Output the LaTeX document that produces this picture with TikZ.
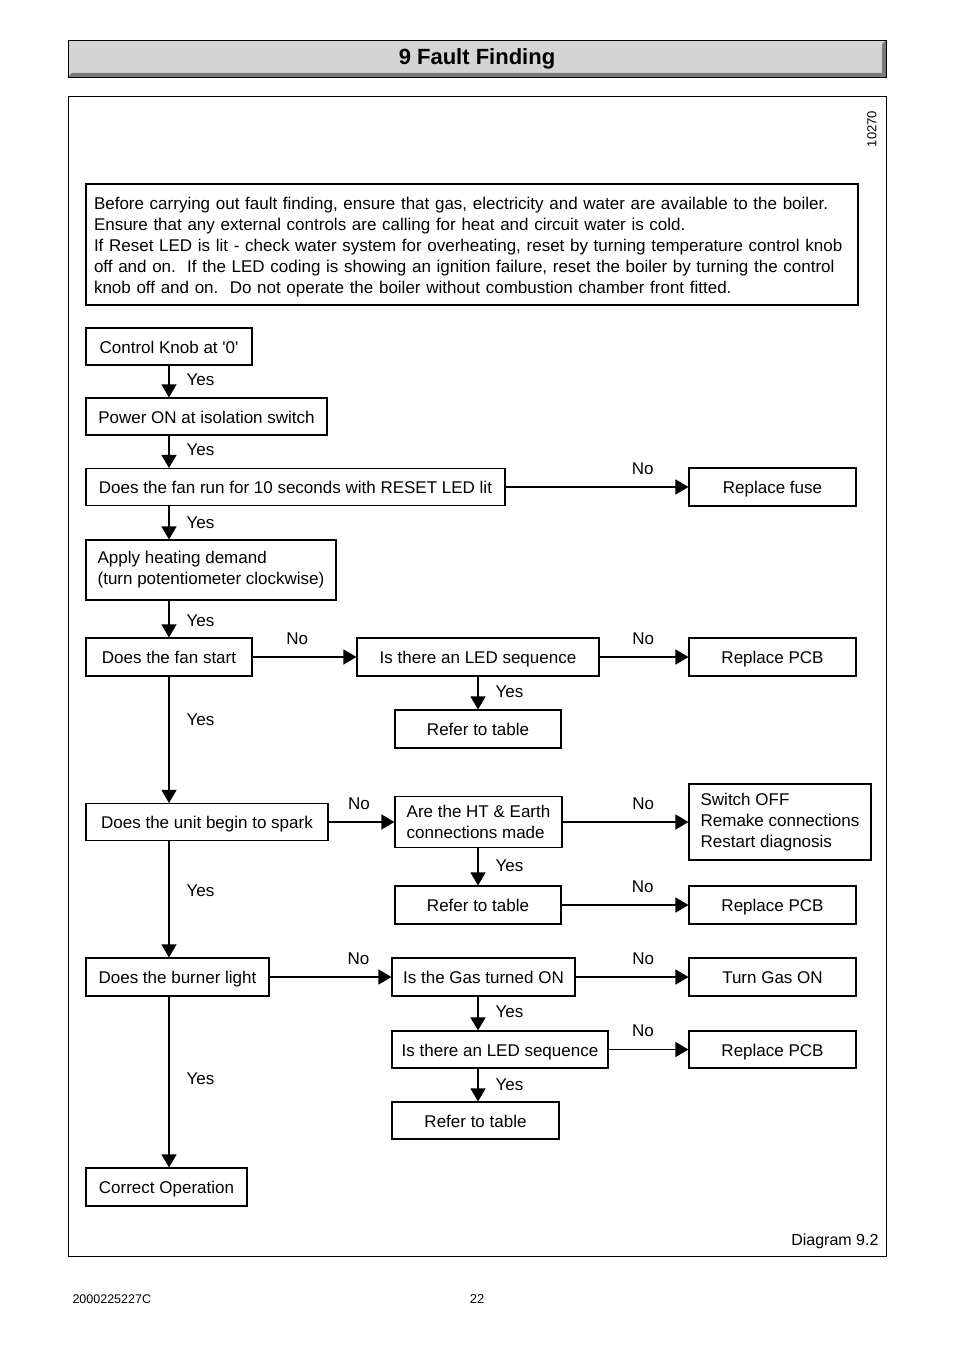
\documentclass[tikz,border=0pt]{standalone}
\usepackage{fontspec}
\setmainfont{Liberation Sans}
\usetikzlibrary{arrows.meta,positioning}
\newcommand{\fs}{\fontsize{17}{21}\selectfont}

\begin{document}
\begin{tikzpicture}[x=1pt, y=-1pt,
	box/.style = {draw, line width=1.1pt, inner sep=3pt, font=\fs, text height=15pt, text depth=1.5pt},
	tall/.style = {box, text height=, text depth=},
	arr/.style = {line width=1.1pt, -{Triangle[width=15pt,length=13pt]}},
	yes/.style = {anchor=west, xshift=17pt, inner sep=0pt, font=\fs},
	no/.style = {anchor=south, yshift=12pt, inner sep=0pt, font=\fs}]
	\useasboundingbox (0,0) rectangle (954,1351);
	% header bar
	\fill[black!17] (68,40) rectangle (886,77);
	\fill[black!52] (886,40) -- (886,77) -- (68,77) -- (72,73) -- (882,73) -- (882,44) -- cycle;
	\draw[line width=0.8pt] (68,40) rectangle (886,77);
	\node[font=\bfseries\fontsize{22}{26}\selectfont] (title) at (477,58.5) {9 Fault Finding};
	\draw[line width=0.8pt] (68,96) rectangle (886,1256);
	\node[rotate=90, font=\fontsize{13}{15}\selectfont] (code) at (872,129) {10270};
	\node[tall, text width=756pt, align=left, inner xsep=8pt, minimum height=121pt] (intro) at (472,244.5) {\raisebox{0pt}[18.5pt]{Before carrying out fault finding, ensure that gas, electricity and water are available to the boiler.}\\
		Ensure that any external controls are calling for heat and circuit water is cold.\\
		If Reset LED is lit - check water system for overheating, reset by turning temperature control knob\\
		off and on.\ \ If the LED coding is showing an ignition failure, reset the boiler by turning the control\\
		knob off and on.\ \ Do not operate the boiler without combustion chamber front fitted.};
	% left column
	\node[box, minimum width=166pt, minimum height=37pt] (knob) at (169,346.5) {Control Knob at \textquotesingle 0\textquotesingle};
	\node[box, minimum width=241pt, minimum height=37pt] (power) at (206.5,416.5) {Power ON at isolation switch};
	\node[box, minimum width=419pt, minimum height=37pt] (fanrun) at (295.5,487) {Does the fan run for 10 seconds with RESET LED lit};
	\node[tall, minimum width=250pt, minimum height=60pt, align=left] (heat) at (211,570) {Apply heating demand\\(turn potentiometer clockwise)};
	\node[box, minimum width=166pt, minimum height=38pt] (fanstart) at (169,657) {Does the fan start};
	\node[box, minimum width=242pt, minimum height=37pt] (spark) at (207,822) {Does the unit begin to spark};
	\node[box, minimum width=183pt, minimum height=38pt] (burner) at (177.5,977) {Does the burner light};
	\node[box, minimum width=161pt, minimum height=38pt] (correct) at (166.5,1187) {Correct Operation};
	% middle column
	\node[box, minimum width=242pt, minimum height=38pt] (led1) at (478,657) {Is there an LED sequence};
	\node[box, minimum width=166pt, minimum height=38pt] (ref1) at (478,729) {Refer to table};
	\node[tall, minimum width=167pt, minimum height=51pt, align=left] (ht) at (478.5,822) {Are the HT \& Earth\\connections made};
	\node[box, minimum width=166pt, minimum height=38pt] (ref2) at (478,905) {Refer to table};
	\node[box, minimum width=183pt, minimum height=38pt] (gas) at (483.5,977) {Is the Gas turned ON};
	\node[box, minimum width=216pt, minimum height=37pt] (led2) at (500,1049.5) {Is there an LED sequence};
	\node[box, minimum width=167pt, minimum height=37pt] (ref3) at (475.5,1120.5) {Refer to table};
	% right column
	\node[box, minimum width=167pt, minimum height=38pt] (fuse) at (772.5,487) {Replace fuse};
	\node[box, minimum width=167pt, minimum height=38pt] (pcb1) at (772.5,657) {Replace PCB};
	\node[tall, minimum width=182pt, minimum height=76pt, align=left] (switch) at (780,822) {Switch OFF\\Remake connections\\Restart diagnosis};
	\node[box, minimum width=167pt, minimum height=38pt] (pcb2) at (772.5,905) {Replace PCB};
	\node[box, minimum width=167pt, minimum height=38pt] (gason) at (772.5,977) {Turn Gas ON};
	\node[box, minimum width=167pt, minimum height=37pt] (pcb3) at (772.5,1049.5) {Replace PCB};
	\coordinate (spine) at (169,0);
	\coordinate (mid) at (478,0);
	% yes arrows
	\draw[arr] (spine |- knob.south) -- node[yes, pos=0.45]{Yes} (spine |- power.north);
	\draw[arr] (spine |- power.south) -- node[yes, pos=0.45]{Yes} (spine |- fanrun.north);
	\draw[arr] (spine |- fanrun.south) -- node[yes, pos=0.5]{Yes} (spine |- heat.north);
	\draw[arr] (spine |- heat.south) -- node[yes, pos=0.55]{Yes} (spine |- fanstart.north);
	\draw[arr] (spine |- fanstart.south) -- node[yes, pos=0.34]{Yes} (spine |- spark.north);
	\draw[arr] (spine |- spark.south) -- node[yes, pos=0.43]{Yes} (spine |- burner.north);
	\draw[arr] (spine |- burner.south) -- node[yes, pos=0.48]{Yes} (spine |- correct.north);
	\draw[arr] (mid |- led1.south) -- node[yes, pos=0.45]{Yes} (mid |- ref1.north);
	\draw[arr] (mid |- ht.south) -- node[yes, pos=0.46]{Yes} (mid |- ref2.north);
	\draw[arr] (mid |- gas.south) -- node[yes, pos=0.46]{Yes} (mid |- led2.north);
	\draw[arr] (mid |- led2.south) -- node[yes, pos=0.5]{Yes} (mid |- ref3.north);
	% no arrows
	\draw[arr] (fanrun.east) -- node[no, pos=0.75]{No} (fuse.west);
	\draw[arr] (fanstart.east) -- node[no, pos=0.43]{No} (led1.west);
	\draw[arr] (led1.east) -- node[no, pos=0.49]{No} (pcb1.west);
	\draw[arr] (spark.east) -- node[no, pos=0.46]{No} (ht.west);
	\draw[arr] (ht.east) -- node[no, pos=0.64]{No} (switch.west);
	\draw[arr] (ref2.east) -- node[no, pos=0.64]{No} (pcb2.west);
	\draw[arr] (burner.east) -- node[no, pos=0.73]{No} (gas.west);
	\draw[arr] (gas.east) -- node[no, pos=0.6]{No} (gason.west);
	\draw[arr] (led2.east) -- node[no, pos=0.43]{No} (pcb3.west);
	% footer
	\node[anchor=east, font=\fontsize{16}{19}\selectfont] (diag) at (882,1241) {Diagram 9.2};
	\node[anchor=west, font=\fontsize{12.5}{15}\selectfont] (docno) at (69,1299) {2000225227C};
	\node[font=\fontsize{13}{15}\selectfont] (page) at (477,1299) {22};
\end{tikzpicture}
\end{document}
